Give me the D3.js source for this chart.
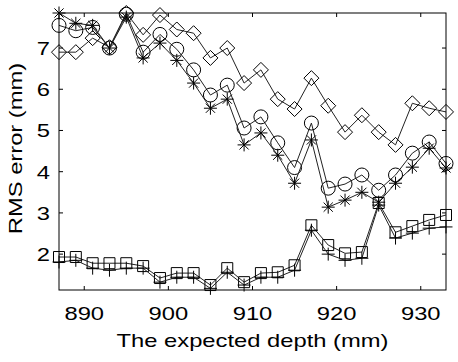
<!DOCTYPE html>
<html>
<head>
<meta charset="utf-8">
<script src="https://cdn.jsdelivr.net/npm/d3@7"></script>
<style>
  body { margin: 0; background: #fff; }
  text { font-family: "Liberation Sans", Arial, sans-serif; fill: #000; }
</style>
</head>
<body>
<div id="wrapper"></div>
<script>
// expected depth (mm)
const depth = [887, 889, 891, 893, 895, 897, 899, 901, 903, 905, 907, 909,
               911, 913, 915, 917, 919, 921, 923, 925, 927, 929, 931, 933]

// RMS error per series (mm)
const circleVals = [7.55, 7.42, 7.5, 7.0, 7.82, 6.9, 7.33, 6.97, 6.47, 5.86, 6.1, 5.06,
                    5.33, 4.7, 4.1, 5.18, 3.6, 3.7, 3.92, 3.55, 3.92, 4.45, 4.72, 4.2]
const starVals = [7.85, 7.6, 7.55, 7.0, 7.75, 6.76, 7.12, 6.7, 6.15, 5.54, 5.76, 4.65,
                  4.94, 4.4, 3.72, 4.77, 3.14, 3.31, 3.5, 3.26, 3.72, 4.11, 4.57, 4.09]
const diamondVals = [6.9, 6.9, 7.24, 7.02, 7.85, 7.32, 7.8, 7.45, 7.36, 6.76, 7.0, 6.15,
                     6.47, 5.76, 5.52, 6.27, 5.6, 4.96, 5.37, 4.96, 4.65, 5.66, 5.54, 5.45]
const squareVals = [1.93, 1.93, 1.78, 1.78, 1.78, 1.71, 1.42, 1.54, 1.54, 1.25, 1.66, 1.32,
                    1.54, 1.56, 1.73, 2.7, 2.22, 2.02, 2.05, 3.24, 2.53, 2.68, 2.83, 2.95]
const plusVals = [1.81, 1.85, 1.66, 1.61, 1.66, 1.66, 1.32, 1.44, 1.44, 1.17, 1.56, 1.25,
                  1.44, 1.44, 1.61, 2.58, 2.0, 1.85, 1.9, 3.19, 2.39, 2.51, 2.63, 2.66]

const xTicks = [890, 900, 910, 920, 930]
const yTicks = [2, 3, 4, 5, 6, 7]

//! page dimensions
let dimensions = {
    width: 458,
    height: 362,
    margin: { top: 13, right: 12, bottom: 72, left: 59 },
}
dimensions.boundedWidth = dimensions.width - dimensions.margin.left - dimensions.margin.right
dimensions.boundedHeight = dimensions.height - dimensions.margin.top - dimensions.margin.bottom

const svg = d3.select('#wrapper')
    .append('svg')
    .attr('width', dimensions.width)
    .attr('height', dimensions.height)

const bounds = svg.append('g')
    .attr('transform', `translate(${dimensions.margin.left},${dimensions.margin.top})`)

//* scales
const xScale = d3.scaleLinear()
    .domain([887, 933])
    .range([0, dimensions.boundedWidth])
const yScale = d3.scaleLinear()
    .domain([1.13, 7.85])
    .range([dimensions.boundedHeight, 0])

//! series lines + markers
const series = [
    { vals: circleVals, marker: 'circle' },
    { vals: starVals, marker: 'star' },
    { vals: diamondVals, marker: 'diamond' },
    { vals: squareVals, marker: 'square' },
    { vals: plusVals, marker: 'plus' },
]

const line = d3.line()
    .x(d => xScale(d.x))
    .y(d => yScale(d.y))

const markerPath = {
    circle: 'M7,0A7,7 0 1,1 -7,0A7,7 0 1,1 7,0Z',
    star: 'M-6.5,0L6.5,0M0,-6.5L0,6.5M-4.6,-4.6L4.6,4.6M-4.6,4.6L4.6,-4.6',
    diamond: 'M0,-7.5L7.5,0L0,7.5L-7.5,0Z',
    square: 'M-5.5,-5.5L5.5,-5.5L5.5,5.5L-5.5,5.5Z',
    plus: 'M-6.5,0L6.5,0M0,-6.5L0,6.5',
}

series.forEach(s => {
    const pts = depth.map((x, i) => ({ x: x, y: s.vals[i] }))
    bounds.append('path')
        .datum(pts)
        .attr('d', line)
        .attr('fill', 'none')
        .attr('stroke', '#222')
        .attr('stroke-width', 1)
    bounds.selectAll(null)
        .data(pts)
        .join('path')
        .attr('transform', d => `translate(${xScale(d.x)},${yScale(d.y)})`)
        .attr('d', markerPath[s.marker])
        .attr('fill', 'none')
        .attr('stroke', '#000')
        .attr('stroke-width', 1)
})

//! axes box with inward ticks
const W = dimensions.boundedWidth, H = dimensions.boundedHeight
bounds.append('rect')
    .attr('x', 0).attr('y', 0)
    .attr('width', W).attr('height', H)
    .attr('fill', 'none')
    .attr('stroke', '#000')
    .attr('stroke-width', 1)

const tickLen = 4
xTicks.forEach(t => {
    bounds.append('line').attr('x1', xScale(t)).attr('x2', xScale(t))
        .attr('y1', H).attr('y2', H - tickLen).attr('stroke', '#000')
    bounds.append('line').attr('x1', xScale(t)).attr('x2', xScale(t))
        .attr('y1', 0).attr('y2', tickLen).attr('stroke', '#000')
    bounds.append('text')
        .attr('transform', `translate(${xScale(t)},${H + 30}) scale(1.25,1)`)
        .attr('text-anchor', 'middle')
        .style('font-size', '19px')
        .text(t)
})
yTicks.forEach(t => {
    bounds.append('line').attr('x1', 0).attr('x2', tickLen)
        .attr('y1', yScale(t)).attr('y2', yScale(t)).attr('stroke', '#000')
    bounds.append('line').attr('x1', W).attr('x2', W - tickLen)
        .attr('y1', yScale(t)).attr('y2', yScale(t)).attr('stroke', '#000')
    bounds.append('text')
        .attr('transform', `translate(-9,${yScale(t) + 7}) scale(1.25,1)`)
        .attr('text-anchor', 'end')
        .style('font-size', '19px')
        .text(t)
})

//! axis titles
svg.append('text')
    .attr('transform', `translate(${dimensions.margin.left + W / 2},${dimensions.height - 15}) scale(1.25,1)`)
    .attr('text-anchor', 'middle')
    .style('font-size', '19px')
    .text('The expected depth (mm)')

svg.append('text')
    .attr('transform', `translate(22,${dimensions.margin.top + H / 2 - 3}) rotate(-90) scale(1.25,1)`)
    .attr('text-anchor', 'middle')
    .style('font-size', '19px')
    .text('RMS error (mm)')
</script>
</body>
</html>
